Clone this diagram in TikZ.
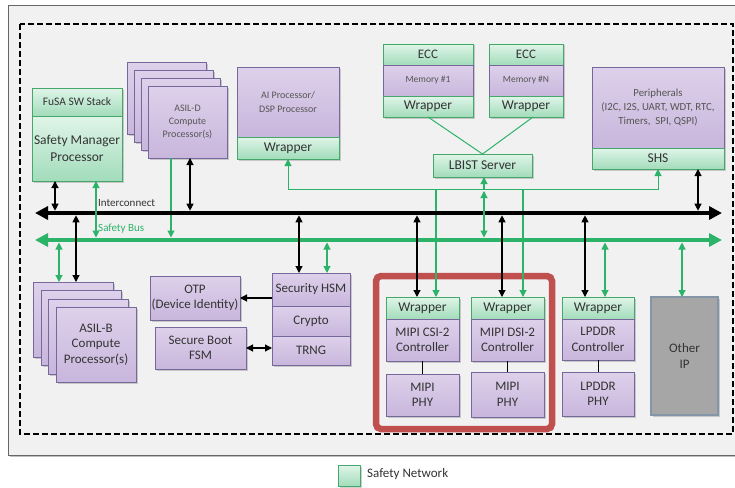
\documentclass[tikz,border=0pt]{standalone}
\usepackage{fontspec}
\setmainfont{Carlito}
\usetikzlibrary{arrows.meta,shadows}
\definecolor{pT}{HTML}{DED1EB}
\definecolor{pB}{HTML}{C8B6DC}
\definecolor{pbord}{HTML}{76689A}
\definecolor{gT}{HTML}{E0F5E8}
\definecolor{gB}{HTML}{A2DCBB}
\definecolor{gbord}{HTML}{45A86A}
\definecolor{gline}{HTML}{2BB36A}
\definecolor{txt}{HTML}{333333}
\definecolor{txtl}{HTML}{555555}
\definecolor{panel}{HTML}{F1F1F1}
\definecolor{redc}{HTML}{C0504D}
\definecolor{otherf}{HTML}{A6A6A6}
\definecolor{otherb}{HTML}{8595A8}
\newcommand\szL{\fontsize{13}{15.5}\selectfont}
\newcommand\szW{\fontsize{13.5}{15.5}\selectfont}
\newcommand\szF{\fontsize{11.5}{13}\selectfont}
\newcommand\szSM{\fontsize{13.5}{17}\selectfont}
\newcommand\szD{\fontsize{10}{13.3}\selectfont}
\newcommand\szAI{\fontsize{10}{14}\selectfont}
\newcommand\szMem{\fontsize{9.5}{11}\selectfont}
\newcommand\szPer{\fontsize{10.8}{14}\selectfont}
\newcommand\szT{\fontsize{11}{13}\selectfont}
\begin{document}
\begin{tikzpicture}[x=1pt,y=-1pt,
  shad/.style={drop shadow={shadow xshift=1.5pt,shadow yshift=-1.5pt,opacity=0.3,fill=black!60}},
  pbox/.style={draw=pbord,line width=0.9pt,top color=pT,bottom color=pB,anchor=north west,
     inner sep=1pt,outer sep=0pt,align=center,text=txt,font=\szL,shad},
  gbox/.style={draw=gbord,line width=0.9pt,top color=gT,bottom color=gB,anchor=north west,
     inner sep=1pt,outer sep=0pt,align=center,text=txt,font=\szW,shad},
  barr/.style={draw=black,line width=1.1pt,{Triangle[length=7pt,width=7pt]}-{Triangle[length=7pt,width=7pt]},shorten >=2.3pt},
  garr/.style={draw=gline,line width=1.1pt,{Triangle[length=7pt,width=7pt]}-{Triangle[length=7pt,width=7pt]},shorten >=2.5pt},
  garrone/.style={draw=gline,line width=1.1pt,-{Triangle[length=7pt,width=7pt]}},
  gthin/.style={draw=gline,line width=1pt},
  bigtip/.style={{Triangle[length=13pt,width=13pt]}-{Triangle[length=13pt,width=13pt]}}
]
\useasboundingbox (0,0) rectangle (735,487);
\fill[white] (0,0) rectangle (735,487);
% panel
\fill[black!25] (10,7) rectangle (747,457);
\fill[panel] (8,5) rectangle (745,455);
\draw[black!60,line width=0.8pt] (8,5) rectangle (745,455);
\draw[black,line width=1.8pt,dash pattern=on 6pt off 3pt] (20,24) rectangle (733,434);

% ---------- top row ----------
\node[gbox,font=\szF,minimum width=90pt,minimum height=28pt] (fusa) at (32,88) {FuSA SW Stack};
\node[gbox,font=\szSM,minimum width=90pt,minimum height=65pt] (smp) at (32,116) {Safety Manager\\Processor};

\node[pbox,minimum width=79pt,minimum height=72pt] (asildA) at (127,62) {};
\node[pbox,minimum width=79pt,minimum height=72pt] (asildB) at (134,70) {};
\node[pbox,minimum width=79pt,minimum height=72pt] (asildC) at (141,78) {};
\node[pbox,font=\szD,text=txtl,minimum width=79pt,minimum height=72pt] (asildD) at (148,86) {ASIL-D\\Compute\\Processor(s)};

\node[pbox,font=\szAI,text=txtl,minimum width=102pt,minimum height=70pt] (ai) at (237,67) {AI Processor/\\DSP Processor};
\node[gbox,minimum width=102pt,minimum height=22pt] (aiw) at (237,137) {Wrapper};

\node[gbox,font=\szL,minimum width=90pt,minimum height=21pt] (ecc1) at (383,44) {ECC};
\node[pbox,font=\szMem,text=txtl,minimum width=90pt,minimum height=31pt] (mem1) at (383,65) {Memory \#1};
\node[gbox,minimum width=90pt,minimum height=21pt] (mem1w) at (383,96) {Wrapper};

\node[gbox,font=\szL,minimum width=74pt,minimum height=21pt] (eccN) at (489,44) {ECC};
\node[pbox,font=\szMem,text=txtl,minimum width=74pt,minimum height=31pt] (memN) at (489,65) {Memory \#N};
\node[gbox,minimum width=74pt,minimum height=21pt] (memNw) at (489,96) {Wrapper};

\node[gbox,minimum width=99pt,minimum height=23pt] (lbist) at (433,154) {LBIST Server};

\node[pbox,font=\szPer,text=txtl,minimum width=132pt,minimum height=81pt] (peri) at (592,67) {Peripherals\\(I2C, I2S, UART, WDT, RTC,\\Timers,\ \ SPI, QSPI)};
\node[gbox,minimum width=132pt,minimum height=21pt] (shs) at (592,148) {SHS};

\draw[gthin] (mem1w.south) -- (lbist.north);
\draw[gthin] ([xshift=7pt]memNw.south) -- (lbist.north);

% ---------- bottom row ----------
\node[pbox,minimum width=80pt,minimum height=75pt] (asilbA) at (33,282) {};
\node[pbox,minimum width=80pt,minimum height=75pt] (asilbB) at (41,290) {};
\node[pbox,minimum width=80pt,minimum height=75pt] (asilbC) at (48,299) {};
\node[pbox,minimum width=80pt,minimum height=75pt] (asilbD) at (56,307) {ASIL-B\\Compute\\Processor(s)};

\node[pbox,minimum width=90pt,minimum height=44pt] (otp) at (150,276) {OTP\\(Device Identity)};
\node[pbox,minimum width=91pt,minimum height=42pt] (sboot) at (155,327) {Secure Boot\\FSM};
\node[pbox,minimum width=78pt,minimum height=33pt] (hsm) at (272,273) {Security HSM};
\node[pbox,minimum width=78pt,minimum height=30pt] (crypto) at (272,306) {Crypto};
\node[pbox,minimum width=78pt,minimum height=29pt] (trng) at (272,336) {TRNG};

\node[draw=redc,line width=6.5pt,rounded corners=5pt,anchor=north west,outer sep=0pt,
      minimum width=176pt,minimum height=153pt] (mipigrp) at (376,276) {};

\node[gbox,minimum width=73pt,minimum height=22pt] (csiw) at (386,297) {Wrapper};
\node[pbox,minimum width=73pt,minimum height=42pt] (csic) at (386,319) {MIPI CSI-2\\Controller};
\node[pbox,minimum width=73pt,minimum height=42pt] (csip) at (386,374) {MIPI\\PHY};

\node[gbox,minimum width=73pt,minimum height=22pt] (dsiw) at (471,297) {Wrapper};
\node[pbox,minimum width=73pt,minimum height=42pt] (dsic) at (471,319) {MIPI DSI-2\\Controller};
\node[pbox,minimum width=73pt,minimum height=45pt] (dsip) at (471,372) {MIPI\\PHY};

\node[gbox,minimum width=72pt,minimum height=22pt] (lpw) at (562,297) {Wrapper};
\node[pbox,minimum width=72pt,minimum height=41pt] (lpc) at (562,319) {LPDDR\\Controller};
\node[pbox,minimum width=72pt,minimum height=44pt] (lpp) at (562,372) {LPDDR\\PHY};

\node[draw=otherb,line width=1.2pt,fill=otherf,anchor=north west,outer sep=0pt,align=center,
      text=txt,font=\szL,shad,minimum width=67pt,minimum height=118pt] (other) at (651,297) {Other\\IP};

\draw[black,line width=0.9pt] (csic.south) -- (csip.north);
\draw[black,line width=0.9pt] (dsic.south) -- (dsip.north);
\draw[black,line width=0.9pt] (lpc.south) -- (lpp.north);

% ---------- buses ----------
\coordinate (icL) at (35,213);
\coordinate (icR) at (722,213);
\coordinate (sbL) at (35,240);
\coordinate (sbR) at (722,240);

% LBIST distribution line
\coordinate (lbL) at (288,189);
\coordinate (lbR) at (658,189);
\coordinate (lbj) at (484,189);
\coordinate (lbj2) at (484,191);
\coordinate (dcsi) at (436,189);
\coordinate (ddsi) at (523,189);
\draw[gthin,{Triangle[length=7pt,width=7pt]}-{Triangle[length=7pt,width=7pt]}]
   (aiw.south -| lbL) -- (lbL) -- (lbR) -- (shs.south -| lbR);
\draw[garrone] (lbj) -- (lbist.south -| lbj);
\draw[garrone] (dcsi) -- (csiw.north -| dcsi);
\draw[garrone] (ddsi) -- (dsiw.north -| ddsi);

% green single from ASIL-D to safety bus
\coordinate (gD) at (171,240);
\draw[garrone,shorten >=2.5pt] (asildD.south -| gD) -- (gD);

\draw[bigtip,line width=4.5pt,black] (icL) -- (icR);
\draw[bigtip,line width=4.5pt,gline] (sbL) -- (sbR);

\node[anchor=west,font=\szT,text=txt,inner sep=0pt] (iclab) at (98,203) {Interconnect};
\node[anchor=west,font=\szT,text=gline,inner sep=0pt] (sblab) at (98,229) {Safety Bus};

% black taps
\coordinate (b1) at (55,213);
\coordinate (b2) at (190,213);
\coordinate (b3) at (76,213);
\coordinate (b4) at (299,213);
\coordinate (b5) at (417,213);
\coordinate (b6) at (502,213);
\coordinate (b7) at (585,213);
\coordinate (b8) at (698,213);
\draw[barr] (smp.south -| b1) -- (b1);
\draw[barr] (asildD.south -| b2) -- (b2);
\draw[barr] (asilbA.north -| b3) -- (b3);
\draw[barr] (hsm.north -| b4) -- (b4);
\draw[barr] (csiw.north -| b5) -- (b5);
\draw[barr] (dsiw.north -| b6) -- (b6);
\draw[barr] (lpw.north -| b7) -- (b7);
\draw[barr] (shs.south -| b8) -- (b8);

% green taps
\coordinate (s1) at (96,240);
\coordinate (s2) at (59,240);
\coordinate (s3) at (327,240);
\coordinate (s4) at (605,240);
\coordinate (s5) at (682,240);
\coordinate (s6) at (484,240);
\draw[garr] (smp.south -| s1) -- (s1);
\draw[garr] (asilbA.north -| s2) -- (s2);
\draw[garr] (hsm.north -| s3) -- (s3);
\draw[garr] (lpw.north -| s4) -- (s4);
\draw[garr] (other.north -| s5) -- (s5);
\draw[garr] (lbj2) -- (s6);

% security links
\draw[draw=black,line width=1.1pt,-{Triangle[length=7pt,width=7pt]}] (hsm.west |- otp.east) -- (otp.east);
\draw[draw=black,line width=1.1pt,{Triangle[length=7pt,width=7pt]}-{Triangle[length=7pt,width=7pt]}] (sboot.east) -- (sboot.east -| trng.west);

% legend
\node[gbox,minimum width=22pt,minimum height=21pt,drop shadow={opacity=0}] (leg) at (338,465) {};
\node[anchor=west,font=\szL,text=txt,inner sep=0pt] (legt) at (367,474) {Safety Network};
\end{tikzpicture}
\end{document}
